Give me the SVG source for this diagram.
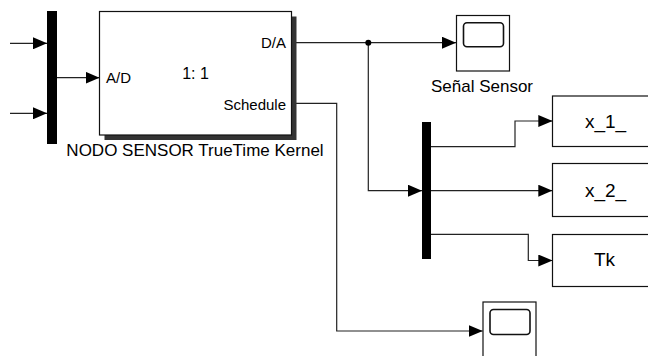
<svg xmlns="http://www.w3.org/2000/svg" width="648" height="356" viewBox="0 0 648 356">
<defs>
<style>
.ln{fill:none;stroke:#222;stroke-width:1.2}
.blk{fill:#fff;stroke:#111;stroke-width:1.2}
.bar{fill:#000}
.t{font-family:"Liberation Sans",Arial,sans-serif;fill:#000}
</style>
<marker id="ah" viewBox="0 0 14 12" refX="14" refY="6" markerWidth="14" markerHeight="12" markerUnits="userSpaceOnUse" orient="auto">
<path d="M0,0 L14,6 L0,12 z" fill="#000"/>
</marker>
</defs>
<rect width="648" height="356" fill="#fff"/>
<g id="connectors">
<path class="ln" d="M10,43.3 H47" marker-end="url(#ah)"/>
<path class="ln" d="M10,113.3 H47" marker-end="url(#ah)"/>
<path class="ln" d="M57,77.7 H99.5" marker-end="url(#ah)"/>
<path class="ln" d="M292,42.7 H456" marker-end="url(#ah)"/>
<path class="ln" d="M368.3,42.7 V190.7 H422" marker-end="url(#ah)"/>
<path class="ln" d="M292,103.3 H336.7 V331 H482.7" marker-end="url(#ah)"/>
<path class="ln" d="M431,146.7 H515 V121 H552.3" marker-end="url(#ah)"/>
<path class="ln" d="M431,190.7 H552.3" marker-end="url(#ah)"/>
<path class="ln" d="M431,234.3 H528.3 V260.5 H552.3" marker-end="url(#ah)"/>
<circle cx="368.3" cy="42.7" r="3" fill="#000"/>
</g>
<g id="mux1">
<rect class="bar" x="47" y="11" width="10" height="133"/>
</g>
<g id="kernel">
<rect x="104.5" y="16.5" width="192" height="123.5" fill="#333"/>
<rect class="blk" x="99.5" y="11.5" width="192" height="123.5"/>
<text class="t" x="286" y="47.5" font-size="15" text-anchor="end">D/A</text>
<text class="t" x="106" y="83" font-size="15">A/D</text>
<text class="t" x="195.5" y="79" font-size="16" text-anchor="middle">1: 1</text>
<text class="t" x="286" y="109.5" font-size="15" text-anchor="end">Schedule</text>
<text class="t" x="195" y="156" font-size="17" text-anchor="middle">NODO SENSOR TrueTime Kernel</text>
</g>
<g id="scope1">
<rect class="blk" x="456.5" y="15.5" width="53" height="55.5"/>
<rect x="463.5" y="22.7" width="40" height="24" rx="3.5" fill="none" stroke="#111" stroke-width="1.6"/>
<text class="t" x="482" y="91.5" font-size="17" text-anchor="middle">Señal Sensor</text>
</g>
<g id="scope2">
<rect class="blk" x="483" y="302" width="53" height="60"/>
<rect x="490" y="309.5" width="40" height="25" rx="3.5" fill="none" stroke="#111" stroke-width="1.6"/>
</g>
<g id="mux2">
<rect class="bar" x="422" y="122" width="9" height="137"/>
</g>
<g id="x1">
<rect class="blk" x="552.5" y="96" width="110" height="50.5"/>
<text class="t" x="605.5" y="127.5" font-size="19" text-anchor="middle">x_1_</text>
</g>
<g id="x2">
<rect class="blk" x="552.5" y="163.5" width="110" height="53"/>
<text class="t" x="605.5" y="196.5" font-size="19" text-anchor="middle">x_2_</text>
</g>
<g id="tk">
<rect class="blk" x="552.5" y="234.5" width="110" height="52"/>
<text class="t" x="604.5" y="266" font-size="19" text-anchor="middle">Tk</text>
</g>
</svg>
